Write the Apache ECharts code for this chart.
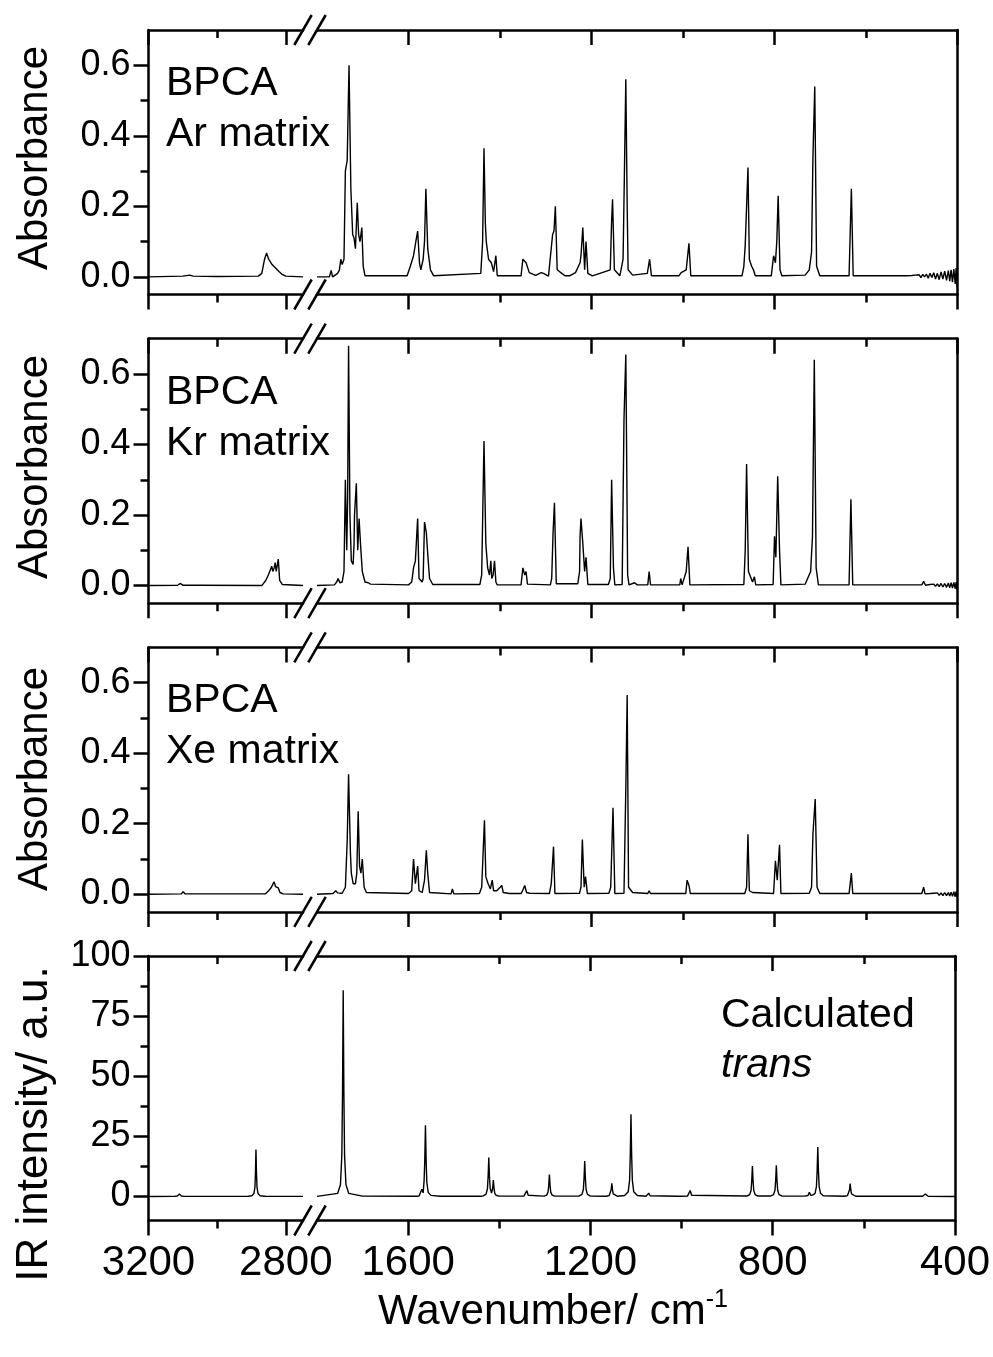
<!DOCTYPE html>
<html><head><meta charset="utf-8">
<script src="https://cdn.jsdelivr.net/npm/echarts@6/dist/echarts.min.js"></script>
<style>html,body{margin:0;padding:0;background:#fff}#c{width:993px;height:1357px}</style>
</head><body><div id="c"></div>
<script>
// ---------- data (wavenumber cm-1, value) ----------
const arLeft = [[3200,0],[3100,0.002],[3080,0.005],[3070,0.002],[3000,0.001],[2880,0.002],[2870,0.01],[2862,0.05],[2856,0.068],[2850,0.05],[2840,0.035],[2830,0.025],[2820,0.015],[2812,0.008],[2800,0.002],[2750,0]];
const arRight = [[1800,0],[1773,0],[1769,0.018],[1766,0],[1755,0.01],[1751,0.02],[1748,0.05],[1745,0.035],[1741,0.05],[1738,0.3],[1734,0.33],[1730,0.6],[1726,0.25],[1722,0.12],[1719,0.11],[1716,0.08],[1712,0.21],[1709,0.12],[1706,0.1],[1702,0.14],[1699,0.03],[1695,0.003],[1603,0.003],[1596,0.03],[1589,0.06],[1584,0.1],[1580,0.13],[1576,0.04],[1573,0.02],[1568,0.05],[1565,0.1],[1562,0.25],[1558,0.08],[1552,0.02],[1545,0.003],[1442,0.01],[1438,0.1],[1435,0.365],[1432,0.15],[1430,0.1],[1425,0.05],[1419,0.04],[1414,0.015],[1409,0.06],[1406,0.003],[1354,0.003],[1350,0.05],[1343,0.04],[1336,0.012],[1322,0.004],[1310,0.012],[1305,0.01],[1294,0.002],[1285,0.12],[1282,0.13],[1279,0.2],[1275,0.02],[1265,0.01],[1258,0.003],[1248,0.003],[1235,0.012],[1225,0.04],[1223,0.06],[1219,0.14],[1215,0.02],[1212,0.1],[1208,0.01],[1198,0.003],[1159,0.02],[1156,0.16],[1154,0.22],[1150,0.02],[1138,0.003],[1131,0.05],[1128,0.3],[1125,0.56],[1122,0.2],[1120,0.02],[1110,0.005],[1078,0.01],[1073,0.05],[1069,0.003],[1009,0.003],[1004,0.012],[993,0.02],[987,0.095],[983,0.003],[871,0.003],[867,0.03],[864,0.09],[858,0.31],[855,0.05],[850,0.03],[846,0.02],[842,0.003],[807,0.003],[802,0.06],[798,0.04],[795,0.1],[792,0.23],[788,0.02],[784,0.003],[733,0.005],[724,0.02],[719,0.07],[716,0.34],[712,0.54],[708,0.03],[701,0.003],[637,0.003],[632,0.25],[628,0.003],[512,0.003],[500,0.004],[496,0],[492,0.005],[488,0.001],[484,0.006],[480,-0.002],[476,0.007],[472,0],[468,0.008],[464,-0.004],[460,0.01],[456,-0.002],[452,0.012],[448,-0.006],[444,0.01],[440,-0.008],[436,0.014],[432,-0.006],[428,0.016],[424,-0.01],[420,0.018],[417,-0.012],[414,0.02],[411,-0.015],[408,0.022],[405,-0.02],[403,0.025],[401,-0.03],[400,0.01]];
const krLeft = [[3200,0],[3115,0.001],[3108,0.006],[3100,0.001],[3065,0.001],[3060,0.006],[3054,0.001],[2870,0],[2858,0.015],[2851,0.03],[2845,0.045],[2841,0.055],[2838,0.04],[2834,0.05],[2831,0.065],[2828,0.04],[2825,0.045],[2822,0.075],[2818,0.015],[2810,0.003],[2750,0]];
const krRight = [[1800,0],[1762,0.002],[1757,0.01],[1754,0.02],[1750,0.008],[1745,0.01],[1741,0.04],[1738,0.3],[1735,0.1],[1733,0.25],[1731,0.68],[1728,0.2],[1725,0.07],[1721,0.06],[1719,0.12],[1718,0.2],[1714,0.29],[1711,0.1],[1708,0.19],[1705,0.12],[1701,0.04],[1695,0.01],[1688,0.008],[1683,0.004],[1600,0.002],[1593,0.01],[1589,0.05],[1585,0.07],[1580,0.19],[1577,0.02],[1570,0.01],[1568,0.02],[1565,0.18],[1561,0.15],[1558,0.09],[1554,0.02],[1547,0.003],[1444,0.003],[1440,0.03],[1435,0.41],[1431,0.12],[1427,0.05],[1423,0.03],[1420,0.07],[1418,0.02],[1415,0.03],[1412,0.07],[1409,0.01],[1406,0.002],[1354,0.002],[1350,0.05],[1346,0.03],[1343,0.04],[1340,0.004],[1290,0.002],[1287,0.02],[1284,0.15],[1281,0.235],[1277,0.005],[1230,0.005],[1226,0.04],[1225,0.14],[1223,0.19],[1219,0.12],[1215,0.04],[1212,0.08],[1208,0.003],[1163,0.003],[1159,0.02],[1156,0.3],[1152,0.05],[1149,0.002],[1133,0.003],[1129,0.47],[1125,0.655],[1121,0.03],[1118,0.002],[1106,0.008],[1100,0.002],[1077,0.002],[1074,0.04],[1071,0.002],[1007,0.002],[1005,0.02],[1002,0.002],[993,0.04],[989,0.11],[985,0.002],[867,0.003],[864,0.1],[861,0.345],[857,0.04],[853,0.04],[848,0.01],[844,0.025],[841,0.002],[803,0.003],[800,0.14],[797,0.08],[793,0.31],[789,0.1],[786,0.002],[733,0.004],[721,0.04],[717,0.14],[713,0.64],[709,0.05],[704,0.002],[637,0.002],[633,0.245],[629,0.002],[478,0.002],[474,0.012],[470,0.001],[460,0.003],[456,-0.001],[452,0.004],[448,-0.002],[444,0.005],[440,-0.003],[436,0.006],[432,-0.004],[428,0.006],[424,-0.005],[420,0.007],[417,-0.006],[414,0.008],[411,-0.007],[408,0.009],[405,-0.009],[403,0.01],[401,-0.012],[400,0.004]];
const xeLeft = [[3200,0],[3105,0.001],[3099,0.007],[3093,0.001],[3055,0.001],[3050,0.005],[3044,0.001],[2860,0.001],[2850,0.01],[2842,0.02],[2838,0.028],[2834,0.035],[2830,0.022],[2826,0.025],[2822,0.018],[2817,0.005],[2808,0.001],[2750,0]];
const xeRight = [[1800,0],[1765,0.002],[1759,0.01],[1755,0.004],[1745,0.003],[1738,0.02],[1734,0.15],[1731,0.34],[1727,0.12],[1725,0.06],[1721,0.03],[1716,0.03],[1713,0.06],[1710,0.235],[1707,0.08],[1704,0.06],[1701,0.1],[1697,0.02],[1692,0.005],[1600,0.002],[1593,0.01],[1589,0.1],[1585,0.03],[1580,0.08],[1577,0.01],[1570,0.005],[1565,0.04],[1561,0.125],[1558,0.06],[1554,0.005],[1507,0.001],[1504,0.015],[1501,0.001],[1445,0.002],[1440,0.02],[1434,0.21],[1431,0.05],[1426,0.03],[1421,0.015],[1417,0.04],[1414,0.01],[1407,0.01],[1396,0.025],[1393,0.005],[1380,0.002],[1354,0.002],[1350,0.012],[1346,0.025],[1342,0.005],[1335,0.003],[1292,0.002],[1288,0.03],[1283,0.135],[1280,0.002],[1226,0.003],[1223,0.02],[1220,0.155],[1216,0.02],[1213,0.05],[1209,0.002],[1162,0.003],[1158,0.02],[1153,0.245],[1149,0.002],[1129,0.003],[1125,0.3],[1122,0.565],[1119,0.02],[1110,0.005],[1077,0.002],[1074,0.01],[1071,0.002],[1008,0.002],[1005,0.006],[1002,0.002],[994,0.002],[991,0.04],[987,0.025],[984,0.002],[865,0.002],[861,0.02],[858,0.17],[855,0.01],[848,0.005],[802,0.002],[798,0.095],[794,0.04],[789,0.14],[786,0.002],[724,0.003],[719,0.02],[716,0.17],[711,0.27],[707,0.02],[701,0.002],[637,0.002],[635,0.005],[632,0.06],[629,0.002],[478,0.002],[474,0.02],[471,0.001],[460,0.002],[456,-0.002],[452,0.003],[448,-0.002],[444,0.004],[440,-0.003],[436,0.004],[432,-0.004],[428,0.005],[424,-0.004],[420,0.005],[417,-0.005],[414,0.006],[411,-0.006],[408,0.007],[405,-0.007],[403,0.008],[401,-0.008],[400,0.002]];
const calcLeft = [[3200,0],[3125,0.05],[3116,0.2],[3113,0.4],[3110,1.0],[3107,0.4],[3104,0.2],[3095,0.05],[2910,0.1],[2899,0.3],[2893,1.2],[2890,3.9],[2888.5,9.75],[2887,19.5],[2885.5,9.75],[2884,3.9],[2881,1.2],[2875,0.3],[2860,0.08],[2750,0.02]];
const calcRight = [[1800,0.05],[1754.5,1.3],[1748.5,5.0],[1745.5,17.2],[1744,42.9],[1742.5,85.8],[1741,42.9],[1739.5,17.2],[1736.5,5.0],[1730.5,1.3],[1700,0.15],[1582,0.1],[1576,0.2],[1573,0.7],[1570,3],[1567,1.5],[1565,6.5],[1563.5,14.8],[1562,29.6],[1560.5,14.8],[1559,5.9],[1556,1.7],[1550,0.45],[1530,0.1],[1440,0.1],[1435,0.25],[1429,0.95],[1426,3.2],[1424.5,8.1],[1423,16.2],[1421.5,8.1],[1420,3.4],[1417,1.4],[1416,1.7],[1414.5,3.4],[1413,6.8],[1411.5,3.4],[1410,1.4],[1407,0.5],[1400,0.15],[1346,0.15],[1342.5,0.5],[1339.5,2.4],[1336.5,0.5],[1333,0.15],[1302,0.15],[1296,0.55],[1293,1.8],[1291.5,4.5],[1290,9.1],[1288.5,4.5],[1287,1.8],[1284,0.55],[1278,0.15],[1224.5,0.22],[1218.5,0.87],[1215.5,2.9],[1214,7.35],[1212.5,14.7],[1211,7.35],[1209.5,2.9],[1206.5,0.87],[1200.5,0.22],[1165,0.1],[1159,0.33],[1156,1.1],[1154.5,2.75],[1153,5.5],[1151.5,2.75],[1150,1.1],[1147,0.33],[1141,0.1],[1125,0.4],[1117,2.0],[1114,6.8],[1112.5,17.1],[1111,34.2],[1109.5,17.1],[1108,6.8],[1105,2.0],[1097,0.4],[1078,0.1],[1075,0.3],[1072,1.4],[1069,0.3],[1066,0.1],[1008,0.1],[1005,0.5],[1002,0.1],[987,0.15],[984,0.5],[981,2.5],[978,0.5],[975,0.15],[856.5,0.19],[850.5,0.75],[847.5,2.5],[846,6.35],[844.5,12.7],[843,6.35],[841.5,2.5],[838.5,0.75],[832.5,0.19],[804,0.2],[798,0.77],[795,2.6],[793.5,6.5],[792,13],[790.5,6.5],[789,2.6],[786,0.77],[780,0.2],[730,0.15],[722.5,0.4],[719.5,1.7],[716.5,0.5],[712,0.6],[707,1.3],[704,4.1],[702.5,10.3],[701,20.6],[699.5,10.3],[698,4.1],[695,1.3],[689,0.3],[642,0.08],[636,0.32],[633,1.1],[631.5,2.7],[630,5.4],[628.5,2.7],[627,1.1],[624,0.32],[618,0.08],[471,0.06],[468,0.2],[465,1.0],[462,0.2],[459,0.06],[400,0]];

// ---------- axis ticks / ranges ----------
const leftRange = [2750, 3200];
const rightRange = [400, 1800];
const xMajorLeft = [3200, 2800];
const xMinorLeft = [3000];
const xMajorRight = [1600, 1200, 800, 400];
const xMinorRight = [1400, 1000, 600];
const absRange = [-0.05, 0.7];
const absMajor = [0, 0.2, 0.4, 0.6];
const absMinor = [0.1, 0.3, 0.5];
const irRange = [-10, 100];
const irMajor = [0, 25, 50, 75, 100];
const irMinor = [12.5, 37.5, 62.5, 87.5];
const panelLabels = [['BPCA', 'Ar matrix'], ['BPCA', 'Kr matrix'], ['BPCA', 'Xe matrix']];
const calcLabel = ['Calculated', 'trans'];
const yTitles = ['Absorbance', 'Absorbance', 'Absorbance', 'IR intensity/ a.u.'];

// ---------- layout ----------
const FONT = '"Liberation Sans", Arial, sans-serif';
const PANEL_TOP = [30, 338.7, 647.4, 956];
const PANEL_H = 264.5;
const LX = 148.5, LW = 154.5, RX = 317, RW = 640.5;
const AXW = 2.5;

const panels = [
  { left: arLeft, right: arRight, range: absRange, major: absMajor, minor: absMinor, dec: 1 },
  { left: krLeft, right: krRight, range: absRange, major: absMajor, minor: absMinor, dec: 1 },
  { left: xeLeft, right: xeRight, range: absRange, major: absMajor, minor: absMinor, dec: 1 },
  { left: calcLeft, right: calcRight, range: irRange, major: irMajor, minor: irMinor, dec: 0 }
];

const grids = [], xAxes = [], yAxes = [], series = [], graphics = [];
const lineSt = { color: '#000', width: AXW };

function xAx(g, range, pos, vals, len, showLine, showLabel) {
  return {
    gridIndex: g, type: 'value', position: pos, inverse: true, min: range[0], max: range[1],
    axisLine: { show: showLine, onZero: false, lineStyle: lineSt },
    axisTick: { show: true, inside: pos === 'top', length: len, lineStyle: lineSt, customValues: vals },
    axisLabel: { show: showLabel, customValues: vals, showMinLabel: true, showMaxLabel: true,
      fontSize: 42, fontFamily: FONT, color: '#000', margin: 22, formatter: v => String(v) },
    splitLine: { show: false }
  };
}

panels.forEach((p, i) => {
  const top = PANEL_TOP[i];
  const last = i === 3;
  const segs = [[LX, LW, leftRange, xMajorLeft, xMinorLeft, p.left], [RX, RW, rightRange, xMajorRight, xMinorRight, p.right]];
  segs.forEach((s, k) => {
    const g = grids.length;
    grids.push({ left: s[0], top: top, width: s[1], height: PANEL_H, containLabel: false });
    const xi = xAxes.length;
    xAxes.push(xAx(g, s[2], 'bottom', s[3], 15, true, last));
    xAxes.push(xAx(g, s[2], 'bottom', s[4], 8, false, false));
    xAxes.push(xAx(g, s[2], 'top', s[3], 15, true, false));
    xAxes.push(xAx(g, s[2], 'top', s[4], 8, false, false));
    const yi = yAxes.length;
    if (k === 0) {
      yAxes.push({
        gridIndex: g, type: 'value', position: 'left', min: p.range[0], max: p.range[1],
        axisLine: { show: true, onZero: false, lineStyle: lineSt },
        axisTick: { show: true, inside: false, length: 15, lineStyle: lineSt, customValues: p.major },
        axisLabel: { show: true, customValues: p.major, fontSize: 36, fontFamily: FONT, color: '#000', margin: 18,
          formatter: v => Number(v).toFixed(p.dec) },
        splitLine: { show: false }
      });
      yAxes.push({
        gridIndex: g, type: 'value', position: 'left', min: p.range[0], max: p.range[1],
        axisLine: { show: false, onZero: false },
        axisTick: { show: true, inside: false, length: 8, lineStyle: lineSt, customValues: p.minor },
        axisLabel: { show: false }, splitLine: { show: false }
      });
    } else {
      yAxes.push({
        gridIndex: g, type: 'value', position: 'right', min: p.range[0], max: p.range[1],
        axisLine: { show: true, onZero: false, lineStyle: lineSt },
        axisTick: { show: false }, axisLabel: { show: false }, splitLine: { show: false }
      });
    }
    series.push({
      type: 'line', xAxisIndex: xi, yAxisIndex: yi, data: s[5], showSymbol: false, symbol: 'none',
      lineStyle: { color: '#000', width: 1.4 }, clip: true, animation: false
    });
  });
  // break marks
  [top, top + PANEL_H].forEach(y => {
    [LX + LW, RX].forEach(cx => {
      graphics.push({ type: 'line', z: 100, shape: { x1: cx - 8.7, y1: y + 15, x2: cx + 8.7, y2: y - 15 },
        style: { stroke: '#000', lineWidth: AXW } });
    });
  });
});

// y-axis titles
const yTitleCY = [158, 467, 779, 1124];
yTitles.forEach((t, i) => {
  graphics.push({ type: 'text', x: 35, y: yTitleCY[i], rotation: Math.PI / 2, z: 100,
    style: { text: t, font: (i === 3 ? 44 : 42) + 'px ' + FONT, fill: '#000', align: 'center', verticalAlign: 'middle' } });
});

// panel annotations
panelLabels.forEach((lab, i) => {
  const t = PANEL_TOP[i];
  graphics.push({ type: 'text', left: 166, top: t + 33, z: 100,
    style: { text: lab[0], font: '41px ' + FONT, fill: '#000' } });
  graphics.push({ type: 'text', left: 166, top: t + 84, z: 100,
    style: { text: lab[1], font: '41px ' + FONT, fill: '#000' } });
});
graphics.push({ type: 'text', left: 721, top: PANEL_TOP[3] + 39, z: 100,
  style: { text: calcLabel[0], font: '41px ' + FONT, fill: '#000' } });
graphics.push({ type: 'text', left: 721, top: PANEL_TOP[3] + 89, z: 100,
  style: { text: calcLabel[1], font: 'italic 41px ' + FONT, fill: '#000' } });
// x-axis title
graphics.push({ type: 'text', x: 553, y: 1312, z: 100,
  style: { text: '{a|Wavenumber/ cm}{b|-1}', align: 'center', verticalAlign: 'middle',
    rich: { a: { fontSize: 42, fontFamily: FONT, fill: '#000', color: '#000' },
            b: { fontSize: 25, fontFamily: FONT, fill: '#000', color: '#000', verticalAlign: 'top', padding: [0, 0, 24, 0] } } } });

const chart = echarts.init(document.getElementById('c'), null, { renderer: 'canvas' });
chart.setOption({
  animation: false,
  backgroundColor: '#fff',
  grid: grids, xAxis: xAxes, yAxis: yAxes, series: series, graphic: graphics
});
</script>
</body></html>
